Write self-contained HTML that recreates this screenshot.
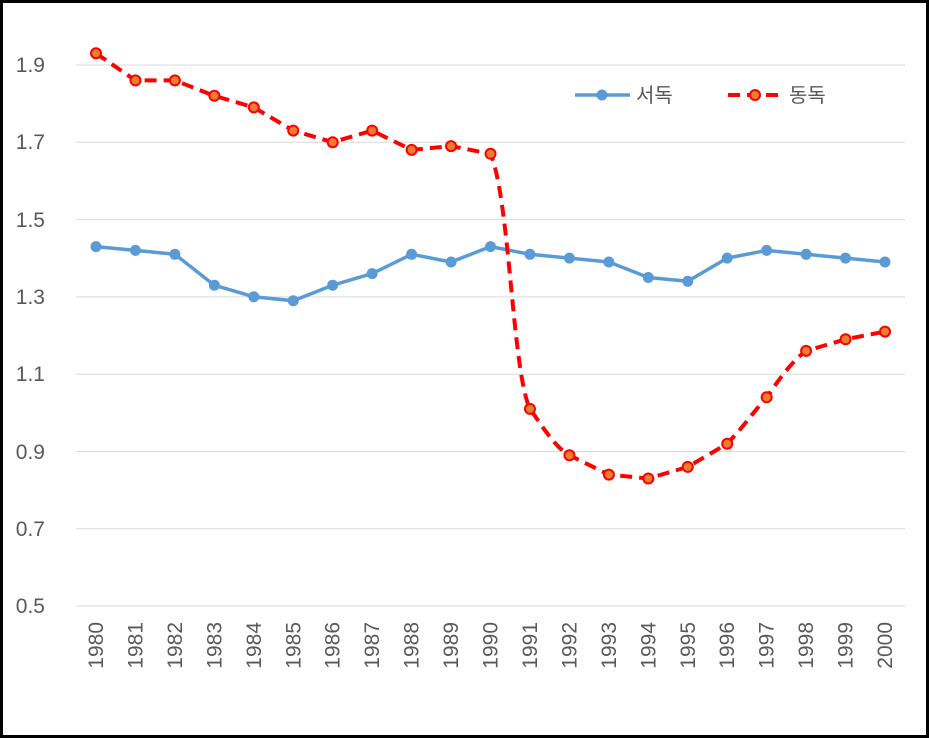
<!DOCTYPE html>
<html><head><meta charset="utf-8"><style>
html,body{margin:0;padding:0;background:#fff;}
svg{display:block;}
text{font-family:"Liberation Sans","Noto Sans CJK KR",sans-serif;fill:#595959;}
</style></head><body>
<svg width="929" height="738" viewBox="0 0 929 738" xmlns="http://www.w3.org/2000/svg">
<rect x="1.5" y="1.5" width="926" height="735" fill="#fff" stroke="#000" stroke-width="3"/>
<g stroke="#d9d9d9" stroke-width="1">
<line x1="76" x2="905" y1="65" y2="65"/>
<line x1="76" x2="905" y1="142.3" y2="142.3"/>
<line x1="76" x2="905" y1="219.6" y2="219.6"/>
<line x1="76" x2="905" y1="296.9" y2="296.9"/>
<line x1="76" x2="905" y1="374.2" y2="374.2"/>
<line x1="76" x2="905" y1="451.5" y2="451.5"/>
<line x1="76" x2="905" y1="528.8" y2="528.8"/>
<line x1="76" x2="905" y1="606" y2="606"/>
</g>
<g font-size="21" text-anchor="end">
<text x="45" y="72">1.9</text>
<text x="45" y="149">1.7</text>
<text x="45" y="227">1.5</text>
<text x="45" y="304">1.3</text>
<text x="45" y="381">1.1</text>
<text x="45" y="459">0.9</text>
<text x="45" y="536">0.7</text>
<text x="45" y="613">0.5</text>
</g>
<g font-size="21" text-anchor="end">
<text transform="translate(103,622) rotate(-90)">1980</text>
<text transform="translate(142.45,622) rotate(-90)">1981</text>
<text transform="translate(181.9,622) rotate(-90)">1982</text>
<text transform="translate(221.35,622) rotate(-90)">1983</text>
<text transform="translate(260.8,622) rotate(-90)">1984</text>
<text transform="translate(300.25,622) rotate(-90)">1985</text>
<text transform="translate(339.7,622) rotate(-90)">1986</text>
<text transform="translate(379.15,622) rotate(-90)">1987</text>
<text transform="translate(418.6,622) rotate(-90)">1988</text>
<text transform="translate(458.05,622) rotate(-90)">1989</text>
<text transform="translate(497.5,622) rotate(-90)">1990</text>
<text transform="translate(536.95,622) rotate(-90)">1991</text>
<text transform="translate(576.4,622) rotate(-90)">1992</text>
<text transform="translate(615.85,622) rotate(-90)">1993</text>
<text transform="translate(655.3,622) rotate(-90)">1994</text>
<text transform="translate(694.75,622) rotate(-90)">1995</text>
<text transform="translate(734.2,622) rotate(-90)">1996</text>
<text transform="translate(773.65,622) rotate(-90)">1997</text>
<text transform="translate(813.1,622) rotate(-90)">1998</text>
<text transform="translate(852.55,622) rotate(-90)">1999</text>
<text transform="translate(892,622) rotate(-90)">2000</text>
</g>
<polyline fill="none" stroke="#5b9bd5" stroke-width="3.5" stroke-linejoin="round" points="96,246.6 135.45,250.4 174.9,254.3 214.35,285.2 253.8,296.8 293.25,300.7 332.7,285.2 372.15,273.6 411.6,254.3 451.05,262 490.5,246.6 529.95,254.3 569.4,258.1 608.85,262 648.3,277.5 687.75,281.3 727.2,258.1 766.65,250.4 806.1,254.3 845.55,258.1 885,262"/>
<g fill="#5b9bd5">
<circle cx="96" cy="246.6" r="5.5"/><circle cx="135.45" cy="250.4" r="5.5"/><circle cx="174.9" cy="254.3" r="5.5"/><circle cx="214.35" cy="285.2" r="5.5"/><circle cx="253.8" cy="296.8" r="5.5"/><circle cx="293.25" cy="300.7" r="5.5"/><circle cx="332.7" cy="285.2" r="5.5"/><circle cx="372.15" cy="273.6" r="5.5"/><circle cx="411.6" cy="254.3" r="5.5"/><circle cx="451.05" cy="262" r="5.5"/><circle cx="490.5" cy="246.6" r="5.5"/><circle cx="529.95" cy="254.3" r="5.5"/><circle cx="569.4" cy="258.1" r="5.5"/><circle cx="608.85" cy="262" r="5.5"/><circle cx="648.3" cy="277.5" r="5.5"/><circle cx="687.75" cy="281.3" r="5.5"/><circle cx="727.2" cy="258.1" r="5.5"/><circle cx="766.65" cy="250.4" r="5.5"/><circle cx="806.1" cy="254.3" r="5.5"/><circle cx="845.55" cy="258.1" r="5.5"/><circle cx="885" cy="262" r="5.5"/>
</g>
<path fill="none" stroke="#ff0000" stroke-width="4" stroke-dasharray="12,7" stroke-linejoin="round"
d="M96,53.3 L135.45,80.4 L174.9,80.4 L214.35,95.8 L253.8,107.4 L293.25,130.6 L332.7,142.2 L372.15,130.6 L411.6,149.9 L451.05,146.1 L490.5,153.8 C510,200 512,370 529.95,408.9 C545,430 555,447 569.4,455.3 L608.85,474.6 L648.3,478.5 L687.75,466.9 L727.2,443.7 C745,425 755,410 766.65,397.3 C780,378 793,360 806.1,350.9 L845.55,339.3 L885,331.6"/>
<g fill="#ed7d31" stroke="#ff0000" stroke-width="2">
<circle cx="96" cy="53.3" r="5"/><circle cx="135.45" cy="80.4" r="5"/><circle cx="174.9" cy="80.4" r="5"/><circle cx="214.35" cy="95.8" r="5"/><circle cx="253.8" cy="107.4" r="5"/><circle cx="293.25" cy="130.6" r="5"/><circle cx="332.7" cy="142.2" r="5"/><circle cx="372.15" cy="130.6" r="5"/><circle cx="411.6" cy="149.9" r="5"/><circle cx="451.05" cy="146.1" r="5"/><circle cx="490.5" cy="153.8" r="5"/><circle cx="529.95" cy="408.9" r="5"/><circle cx="569.4" cy="455.3" r="5"/><circle cx="608.85" cy="474.6" r="5"/><circle cx="648.3" cy="478.5" r="5"/><circle cx="687.75" cy="466.9" r="5"/><circle cx="727.2" cy="443.7" r="5"/><circle cx="766.65" cy="397.3" r="5"/><circle cx="806.1" cy="350.9" r="5"/><circle cx="845.55" cy="339.3" r="5"/><circle cx="885" cy="331.6" r="5"/>
</g>
<line x1="575" x2="630" y1="95" y2="95" stroke="#5b9bd5" stroke-width="3.5"/>
<circle cx="602" cy="95" r="5.5" fill="#5b9bd5"/>
<text x="636" y="102" font-size="20">서독</text>
<line x1="728" x2="782" y1="95" y2="95" stroke="#ff0000" stroke-width="4" stroke-dasharray="12,7"/>
<circle cx="755" cy="95" r="5" fill="#ed7d31" stroke="#ff0000" stroke-width="2"/>
<text x="789" y="102" font-size="20">동독</text>
</svg>
</body></html>
